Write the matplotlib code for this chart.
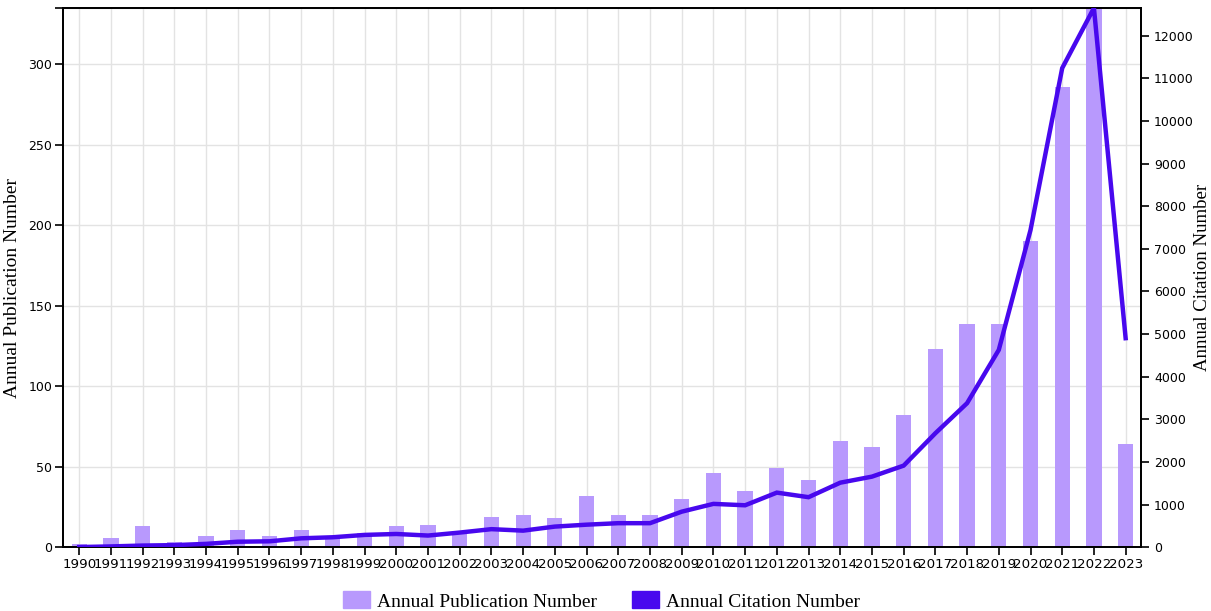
import matplotlib.pyplot as plt
from matplotlib.patches import Patch

years = [str(y) for y in range(1990, 2024)]
publications = [2, 6, 13, 3, 7, 11, 7, 11, 5, 9, 13, 14, 10, 19, 20, 18, 32,
                20, 20, 30, 46, 35, 49, 42, 66, 62, 82, 123, 139, 139, 190, 286,
                335, 64]
citations = [5, 20, 40, 50, 80, 130, 140, 210, 235, 290, 312, 275, 345, 425,
             390, 485, 530, 565, 565, 835, 1018, 985, 1282, 1175, 1515, 1657,
             1915, 2675, 3380, 4630, 7440, 11240, 12650, 4905]

bar_color = '#b899fd'
line_color = '#4808ee'

fig = plt.figure(figsize=(12.11, 6.11), dpi=100)
ax = fig.add_axes([0.0523, 0.1043, 0.8903, 0.8826])
ax2 = ax.twinx()

x = list(range(len(years)))
ax.bar(x, publications, 0.48, color=bar_color, zorder=2)
ax2.plot(x, citations, color=line_color, linewidth=3.2, solid_joinstyle='miter', zorder=3)

ax.set_xlim(-0.5, len(years) - 0.5)
ax.set_ylim(0, max(publications))
ax2.set_ylim(0, max(citations))

ax.set_xticks(x)
ax.set_xticklabels(years, fontsize=9.6)
ax.set_yticks(list(range(0, 301, 50)) + [max(publications)])
ax.set_yticklabels([str(v) for v in range(0, 301, 50)] + [''], fontsize=9)
ax2.set_yticks(range(0, 12001, 1000))
ax2.set_yticklabels([str(v) for v in range(0, 12001, 1000)], fontsize=9)

ax.grid(True, color='#e3e3e3', linewidth=1, zorder=0)
ax.set_axisbelow(True)
ax.tick_params(axis='both', length=6, width=1.2, pad=2)
ax2.tick_params(axis='y', length=6, width=1.2, pad=3)

for a in (ax, ax2):
    for s in a.spines.values():
        s.set_linewidth(1.3)
        s.set_color('black')

serif = 'Liberation Serif'
ax.set_ylabel('Annual Publication Number', fontsize=14, family=serif)
ax.yaxis.set_label_coords(-0.039, 0.48)
ax2.set_ylabel('Annual Citation Number', fontsize=13.5, family=serif)
ax2.yaxis.set_label_coords(1.049, 0.5)

handles = [Patch(color=bar_color), Patch(color=line_color)]
fig.legend(handles, ['Annual Publication Number', 'Annual Citation Number'],
           loc='center', bbox_to_anchor=(0.4967, 0.0164), ncol=2, frameon=False,
           prop={'family': serif, 'size': 14}, handlelength=1.4, handleheight=0.95,
           columnspacing=1.8, handletextpad=0.36, borderpad=0.2)

fig.savefig('out.png', dpi=100)
